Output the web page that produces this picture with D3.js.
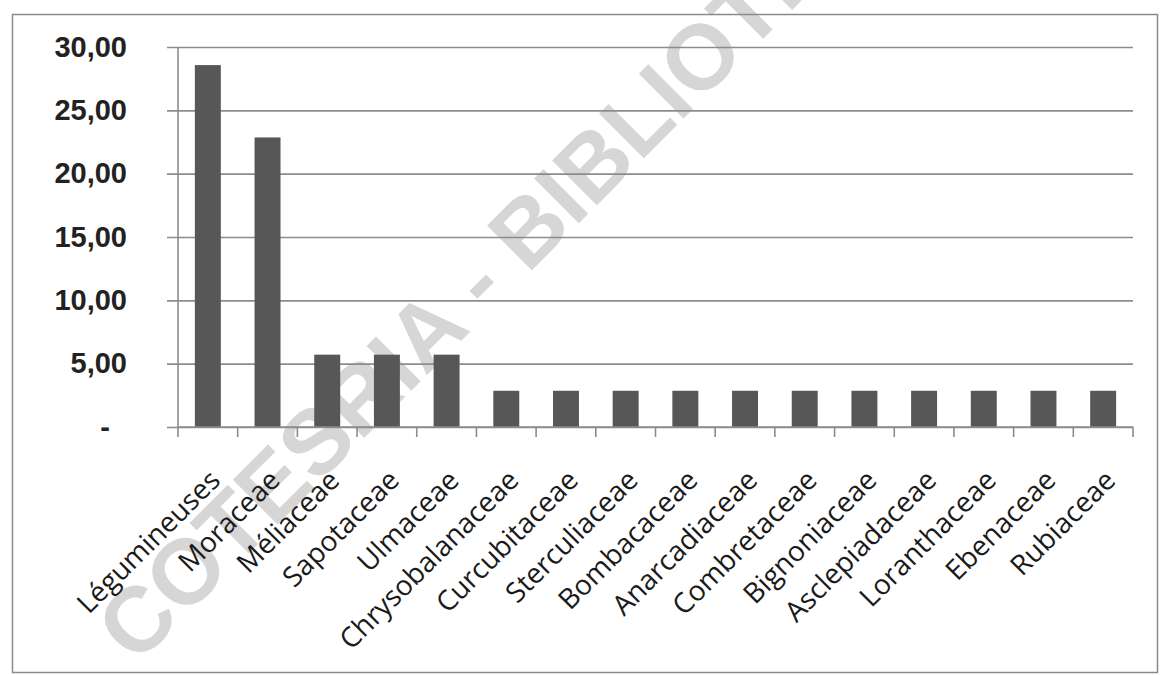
<!DOCTYPE html>
<html>
<head>
<meta charset="utf-8">
<script src="https://cdn.jsdelivr.net/npm/d3@7"></script>
<style>
  body { margin: 0; background: #fff; }
  svg { display: block; }
</style>
</head>
<body>
<div id="chart"></div>
<script>
// families and share of species (%)
const families = ["Légumineuses", "Moraceae", "Méliaceae", "Sapotaceae", "Ulmaceae",
  "Chrysobalanaceae", "Curcubitaceae", "Sterculiaceae", "Bombacaceae", "Anarcadiaceae",
  "Combretaceae", "Bignoniaceae", "Asclepiadaceae", "Loranthaceae", "Ebenaceae", "Rubiaceae"];
const shares = [28.57, 22.86, 5.71, 5.71, 5.71, 2.86, 2.86, 2.86, 2.86, 2.86,
  2.86, 2.86, 2.86, 2.86, 2.86, 2.86];
const yTicks = [0, 5, 10, 15, 20, 25, 30];
const watermark = "COTESRIA - BIBLIOTHEQUE";

const width = 1167, height = 675;
const plot = { left: 178, right: 1133, top: 47, bottom: 427 };

const svg = d3.select("#chart").append("svg")
  .attr("width", width)
  .attr("height", height);

// watermark sits behind the chart
svg.append("text")
  .attr("transform", "translate(136,666) rotate(-45)")
  .attr("fill", "#d6d6d6")
  .style("font-family", "'Liberation Sans', Arial, sans-serif")
  .style("font-weight", "bold")
  .style("font-size", "92px")
  .text(watermark);

// outer frame
svg.append("rect")
  .attr("x", 12.5).attr("y", 14.5)
  .attr("width", 1145).attr("height", 658)
  .attr("fill", "none")
  .attr("stroke", "#8a8a8a")
  .attr("stroke-width", 1.5);

const x = d3.scaleBand()
  .domain(families)
  .range([plot.left, plot.right])
  .paddingInner(0.565)
  .paddingOuter(0.2825);

const y = d3.scaleLinear()
  .domain([0, 30])
  .range([plot.bottom, plot.top]);

// gridlines + y labels
const yAxis = d3.axisLeft(y)
  .tickValues(yTicks)
  .tickSize(plot.right - plot.left + 11)
  .tickPadding(40)
  .tickFormat(d => d === 0 ? "-" : d.toFixed(2).replace(".", ","));

const gy = svg.append("g")
  .attr("transform", `translate(${plot.right},0)`)
  .call(yAxis);
gy.select(".domain").remove();
gy.selectAll(".tick line")
  .attr("stroke", "#8c8c8c")
  .attr("stroke-width", 1.6);
gy.selectAll(".tick text")
  .attr("x", -(plot.right - 127))
  .attr("dx", d => d === 0 ? -17 : 0)
  .attr("fill", "#222")
  .style("font-family", "'Liberation Sans', Arial, sans-serif")
  .style("font-weight", "bold")
  .style("font-size", "29px");

// y axis line
svg.append("line")
  .attr("x1", plot.left).attr("x2", plot.left)
  .attr("y1", plot.top).attr("y2", plot.bottom)
  .attr("stroke", "#8c8c8c")
  .attr("stroke-width", 1.6);

// bars
svg.append("g")
  .selectAll("rect")
  .data(families)
  .enter().append("rect")
  .attr("x", d => x(d))
  .attr("width", x.bandwidth())
  .attr("y", (d, i) => y(shares[i]))
  .attr("height", (d, i) => y(0) - y(shares[i]))
  .attr("fill", "#575757");

// x axis: ticks at category boundaries
const step = x.step();
const bounds = d3.range(families.length + 1).map(i => plot.left + i * step);
svg.append("g")
  .selectAll("line")
  .data(bounds)
  .enter().append("line")
  .attr("x1", d => d).attr("x2", d => d)
  .attr("y1", plot.bottom).attr("y2", plot.bottom + 10)
  .attr("stroke", "#8c8c8c")
  .attr("stroke-width", 1.6);

svg.append("line")
  .attr("x1", plot.left).attr("x2", plot.right)
  .attr("y1", plot.bottom).attr("y2", plot.bottom)
  .attr("stroke", "#8c8c8c")
  .attr("stroke-width", 1.6);

// rotated category labels
svg.append("g")
  .selectAll("text")
  .data(families)
  .enter().append("text")
  .attr("transform", d => `translate(${x(d) + x.bandwidth() / 2 + 14},${plot.bottom + 55}) rotate(-45)`)
  .attr("text-anchor", "end")
  .attr("fill", "#1a1a1a")
  .style("font-family", "'Open Sans', sans-serif")
  .style("font-size", "28px")
  .text(d => d);
</script>
</body>
</html>
